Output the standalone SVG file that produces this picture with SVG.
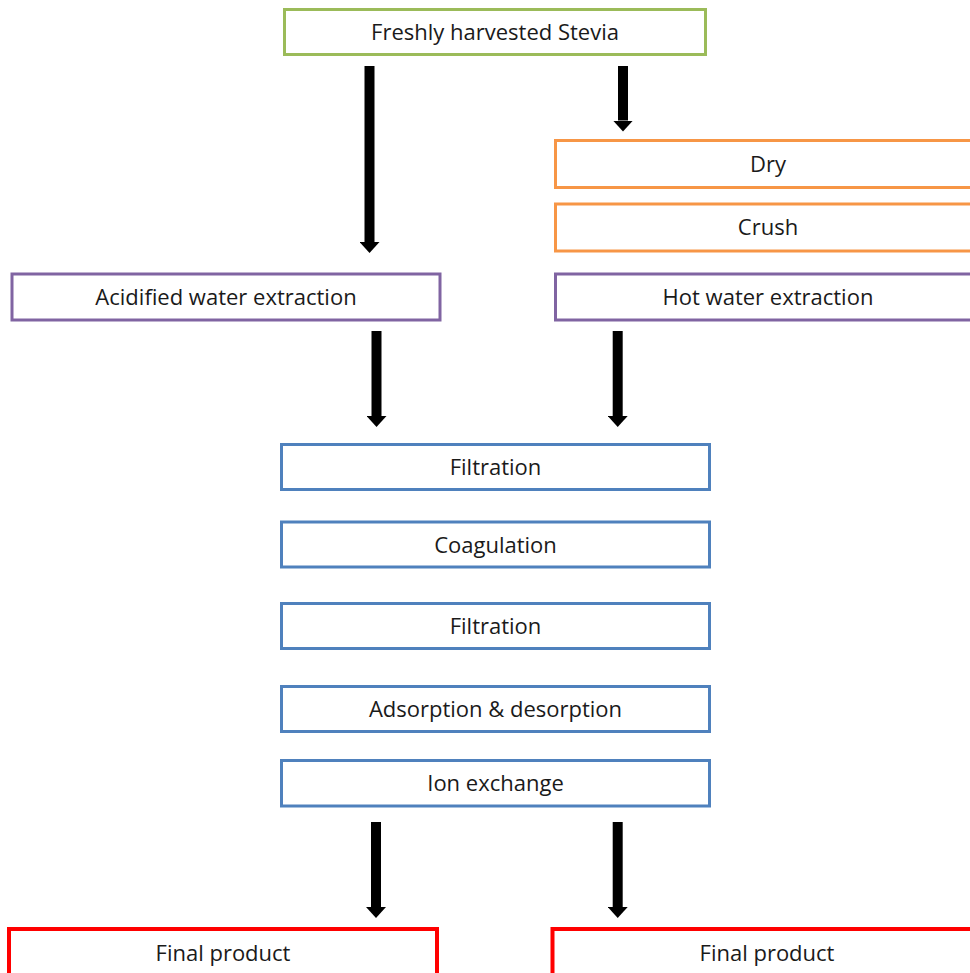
<svg xmlns="http://www.w3.org/2000/svg" width="970" height="973" viewBox="0 0 970 973">
<style>
  .box { fill: #ffffff; stroke-width: 3; }
  .green { stroke: #9BBB59; }
  .orange { stroke: #F79646; }
  .purple { stroke: #8064A2; }
  .blue { stroke: #4F81BD; }
  .red { stroke: #FF0000; stroke-width: 4; }
  .lbl { font-family: "Open Sans", "Liberation Sans", Arial, sans-serif; font-size: 22px; fill: #1a1a1a; text-anchor: middle; }
  .arrow { stroke: #000000; stroke-width: 10; fill: none; marker-end: url(#head); }
</style>
<defs>
  <marker id="head" viewBox="0 -10 11 20" refX="0" refY="0" markerWidth="11" markerHeight="20" markerUnits="userSpaceOnUse" orient="auto">
    <path d="M0,-10 L11,0 L0,10 z" fill="#000000"/>
  </marker>
</defs>
<rect width="970" height="973" fill="#ffffff"/>

<g id="connectors">
  <line class="arrow" x1="369.5" y1="66" x2="369.5" y2="242"/>
  <line class="arrow" x1="623" y1="66" x2="623" y2="120.5"/>
  <line class="arrow" x1="376.5" y1="331" x2="376.5" y2="416"/>
  <line class="arrow" x1="617.7" y1="331" x2="617.7" y2="416"/>
  <line class="arrow" x1="376" y1="822" x2="376" y2="907"/>
  <line class="arrow" x1="617.7" y1="822" x2="617.7" y2="907"/>
</g>

<g id="stevia">
  <rect class="box green" x="284.5" y="9.5" width="421" height="45"/>
  <text class="lbl" x="495" y="39.5">Freshly harvested Stevia</text>
</g>
<g id="dry">
  <rect class="box orange" x="555.5" y="140.5" width="426" height="47"/>
  <text class="lbl" x="768" y="171.5">Dry</text>
</g>
<g id="crush">
  <rect class="box orange" x="555.5" y="204" width="426" height="47"/>
  <text class="lbl" x="768" y="235">Crush</text>
</g>
<g id="hot-water">
  <rect class="box purple" x="555.5" y="274" width="426" height="46"/>
  <text class="lbl" x="768" y="304.5">Hot water extraction</text>
</g>
<g id="acidified">
  <rect class="box purple" x="12" y="274" width="428" height="46"/>
  <text class="lbl" x="226" y="304.5">Acidified water extraction</text>
</g>
<g id="filtration1">
  <rect class="box blue" x="281.5" y="444.5" width="428" height="45"/>
  <text class="lbl" x="495.5" y="474.5">Filtration</text>
</g>
<g id="coagulation">
  <rect class="box blue" x="281.5" y="522" width="428" height="45"/>
  <text class="lbl" x="495.5" y="552.5">Coagulation</text>
</g>
<g id="filtration2">
  <rect class="box blue" x="281.5" y="603.5" width="428" height="45"/>
  <text class="lbl" x="495.5" y="633.5">Filtration</text>
</g>
<g id="adsorption">
  <rect class="box blue" x="281.5" y="686.5" width="428" height="45"/>
  <text class="lbl" x="495.5" y="716.5">Adsorption &amp; desorption</text>
</g>
<g id="ion-exchange">
  <rect class="box blue" x="281.5" y="760.5" width="428" height="45.5"/>
  <text class="lbl" x="495.5" y="791">Ion exchange</text>
</g>
<g id="final-left">
  <rect class="box red" x="9" y="929" width="428" height="60"/>
  <text class="lbl" x="223" y="961">Final product</text>
</g>
<g id="final-right">
  <rect class="box red" x="552.5" y="929" width="430" height="60"/>
  <text class="lbl" x="767" y="961">Final product</text>
</g>
</svg>
